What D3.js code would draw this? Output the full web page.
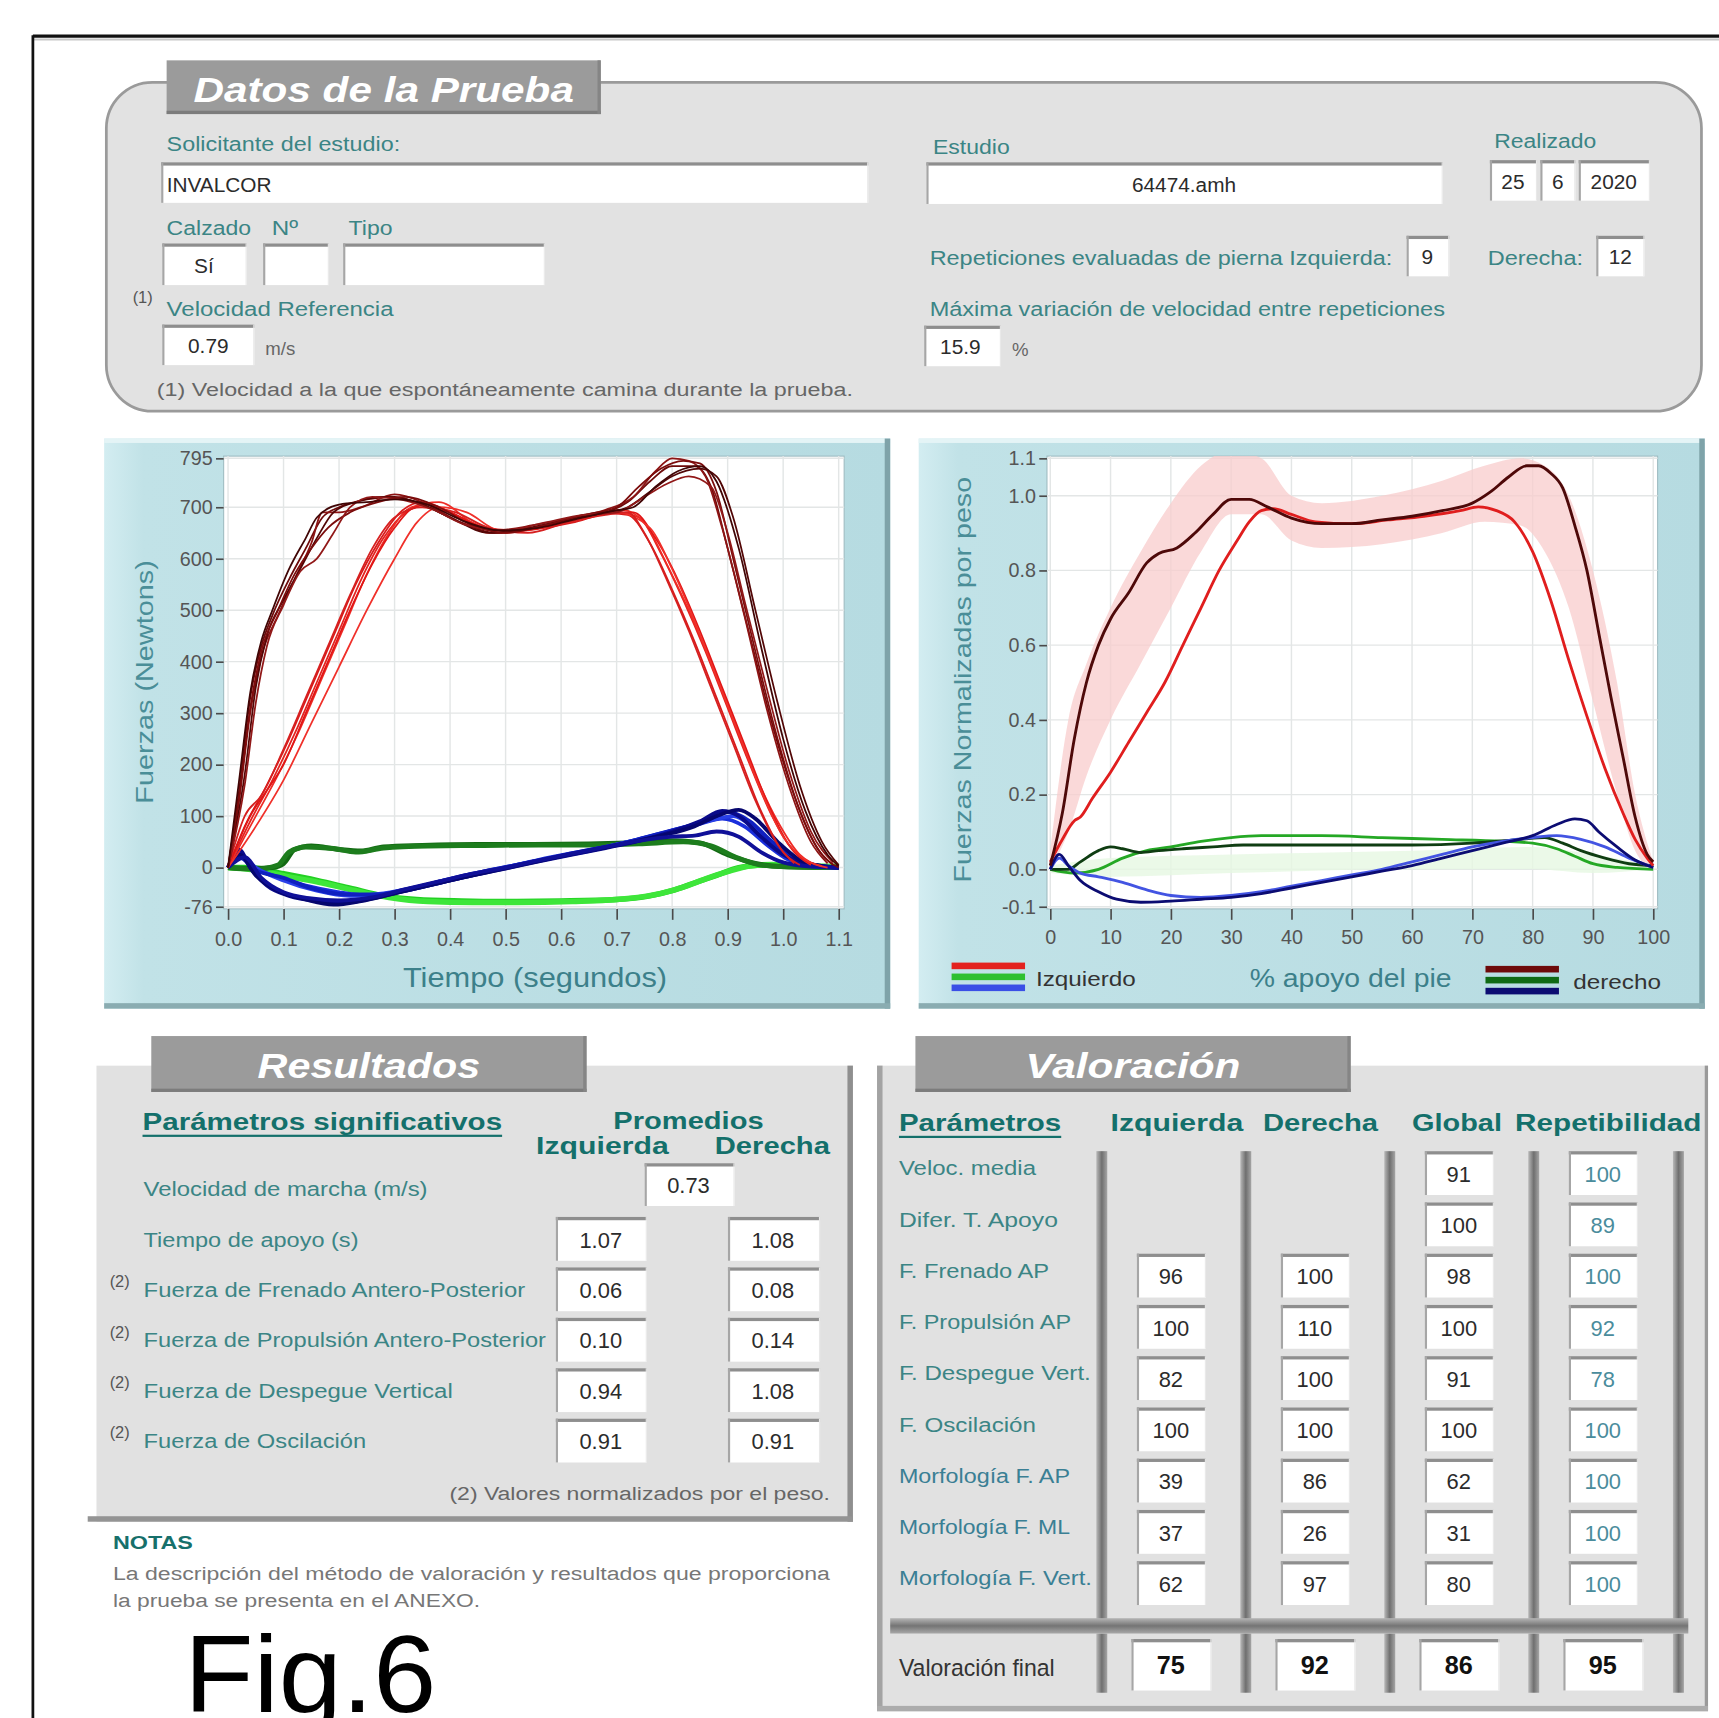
<!DOCTYPE html>
<html>
<head>
<meta charset="utf-8">
<script src="https://cdn.jsdelivr.net/npm/d3@7"></script>
<style>
body { margin: 0; background: #fff; }
svg { display: block; }
</style>
</head>
<body>
<div class="chart"></div>
<script>
// ---- data ----

// fuerzas en newtons (tiempo s, N) - pierna izquierda, componente vertical
const vertIzq = [
	[[0,0],[0.04,90],[0.08,170],[0.12,260],[0.16,360],[0.2,460],[0.24,560],[0.28,640],[0.32,690],[0.36,705],[0.42,680],[0.48,655],[0.55,660],[0.62,675],[0.7,690],[0.74,680],[0.78,610],[0.82,520],[0.86,420],[0.9,310],[0.94,200],[0.98,100],[1.02,30],[1.05,5]],
	[[0,0],[0.03,80],[0.07,160],[0.11,250],[0.15,350],[0.19,450],[0.23,550],[0.27,630],[0.31,690],[0.35,710],[0.41,685],[0.47,650],[0.54,655],[0.62,670],[0.69,688],[0.72,685],[0.76,630],[0.8,540],[0.84,440],[0.88,330],[0.92,220],[0.96,110],[1.0,30],[1.03,5]],
	[[0,0],[0.05,100],[0.09,180],[0.13,270],[0.17,370],[0.21,470],[0.25,570],[0.29,650],[0.33,700],[0.38,710],[0.44,670],[0.5,650],[0.57,665],[0.64,680],[0.71,695],[0.75,670],[0.79,590],[0.83,500],[0.87,400],[0.91,290],[0.95,180],[0.99,90],[1.03,25],[1.07,3]],
	[[0,0],[0.04,100],[0.07,150],[0.1,200],[0.14,300],[0.18,400],[0.22,500],[0.26,590],[0.3,660],[0.34,700],[0.4,690],[0.46,660],[0.53,655],[0.6,670],[0.68,690],[0.73,690],[0.77,640],[0.81,560],[0.85,460],[0.89,350],[0.93,240],[0.97,130],[1.01,45],[1.05,8]],
	[[0,0],[0.05,80],[0.1,170],[0.15,280],[0.2,390],[0.25,500],[0.3,600],[0.34,670],[0.38,700],[0.43,690],[0.49,655],[0.56,660],[0.63,675],[0.7,690],[0.76,660],[0.8,580],[0.84,480],[0.88,370],[0.92,260],[0.96,150],[1.0,60],[1.04,15],[1.08,0]],
	[[0,0],[0.03,100],[0.06,140],[0.1,230],[0.14,330],[0.18,430],[0.22,530],[0.26,620],[0.3,680],[0.35,700],[0.41,690],[0.47,660],[0.54,650],[0.61,670],[0.68,685],[0.72,690],[0.75,650],[0.79,560],[0.83,460],[0.87,350],[0.91,240],[0.95,130],[0.99,45],[1.02,8]]
]

// pierna derecha, componente vertical
const vertDer = [
	[[0,0],[0.02,150],[0.04,330],[0.06,430],[0.08,490],[0.11,560],[0.14,620],[0.17,680],[0.2,700],[0.25,715],[0.3,720],[0.36,700],[0.42,670],[0.48,650],[0.55,660],[0.62,680],[0.68,690],[0.72,710],[0.76,750],[0.8,780],[0.84,780],[0.87,740],[0.9,620],[0.94,450],[0.98,280],[1.02,140],[1.06,40],[1.09,5]],
	[[0,0],[0.02,130],[0.04,300],[0.06,410],[0.09,490],[0.12,560],[0.15,630],[0.17,690],[0.2,690],[0.24,700],[0.3,725],[0.36,705],[0.42,670],[0.48,655],[0.55,665],[0.62,680],[0.68,695],[0.73,720],[0.77,770],[0.8,795],[0.83,790],[0.86,760],[0.89,660],[0.93,490],[0.97,310],[1.01,160],[1.05,50],[1.08,8]],
	[[0,0],[0.03,180],[0.05,350],[0.07,450],[0.1,520],[0.13,580],[0.16,640],[0.19,690],[0.23,710],[0.28,720],[0.34,710],[0.4,680],[0.47,650],[0.54,660],[0.61,675],[0.68,690],[0.72,700],[0.76,730],[0.8,760],[0.85,775],[0.88,760],[0.91,680],[0.95,500],[0.99,320],[1.03,160],[1.07,50],[1.1,5]],
	[[0,0],[0.02,140],[0.04,310],[0.06,420],[0.09,500],[0.12,570],[0.15,620],[0.18,660],[0.22,690],[0.27,710],[0.32,720],[0.38,700],[0.44,665],[0.5,650],[0.57,665],[0.64,685],[0.7,700],[0.74,740],[0.78,775],[0.82,790],[0.85,785],[0.88,730],[0.91,600],[0.95,420],[0.99,250],[1.03,110],[1.07,25],[1.1,0]],
	[[0,0],[0.03,160],[0.05,320],[0.07,430],[0.1,510],[0.13,575],[0.16,600],[0.19,650],[0.22,700],[0.26,720],[0.31,715],[0.37,695],[0.43,665],[0.5,655],[0.57,670],[0.64,685],[0.7,690],[0.75,720],[0.79,745],[0.83,760],[0.87,740],[0.9,650],[0.93,520],[0.97,350],[1.01,190],[1.05,70],[1.09,10]],
	[[0,0],[0.02,170],[0.04,340],[0.06,440],[0.08,500],[0.11,580],[0.14,640],[0.16,680],[0.2,705],[0.25,710],[0.3,715],[0.36,705],[0.42,675],[0.49,655],[0.56,660],[0.63,678],[0.69,692],[0.73,700],[0.77,740],[0.81,770],[0.85,780],[0.88,750],[0.92,620],[0.96,430],[1.0,250],[1.04,110],[1.08,25],[1.1,3]]
]

// antero-posterior
const apIzq = [
	[[0,0],[0.02,30],[0.04,5],[0.08,-15],[0.14,-35],[0.2,-48],[0.26,-55],[0.32,-45],[0.38,-30],[0.44,-15],[0.5,0],[0.56,15],[0.62,28],[0.68,40],[0.74,55],[0.8,72],[0.85,85],[0.89,95],[0.93,80],[0.97,45],[1.01,15],[1.05,3],[1.1,0]],
	[[0,0],[0.02,25],[0.05,0],[0.1,-25],[0.16,-45],[0.22,-55],[0.28,-50],[0.34,-38],[0.4,-22],[0.46,-8],[0.52,5],[0.58,18],[0.64,30],[0.7,45],[0.76,60],[0.82,78],[0.87,92],[0.91,100],[0.95,75],[0.99,40],[1.03,12],[1.07,2],[1.1,0]],
	[[0,0],[0.02,20],[0.05,-5],[0.1,-20],[0.15,-40],[0.21,-52],[0.27,-52],[0.33,-40],[0.39,-25],[0.45,-10],[0.51,3],[0.57,16],[0.63,30],[0.69,42],[0.75,58],[0.81,75],[0.86,90],[0.9,108],[0.94,90],[0.98,50],[1.02,18],[1.06,4],[1.1,0]]
]
const apDer = [
	[[0,0],[0.02,35],[0.04,0],[0.07,-35],[0.11,-55],[0.16,-65],[0.21,-68],[0.26,-60],[0.32,-45],[0.38,-30],[0.44,-15],[0.5,-2],[0.56,12],[0.62,25],[0.68,38],[0.74,52],[0.8,70],[0.85,90],[0.89,110],[0.92,100],[0.96,60],[1.0,25],[1.04,8],[1.1,0]],
	[[0,0],[0.02,25],[0.05,-15],[0.09,-45],[0.14,-62],[0.19,-72],[0.24,-65],[0.3,-50],[0.36,-35],[0.42,-20],[0.48,-6],[0.54,8],[0.6,22],[0.66,35],[0.72,48],[0.78,62],[0.84,80],[0.88,100],[0.92,112],[0.95,95],[0.99,50],[1.03,15],[1.07,3],[1.1,0]],
	[[0,0],[0.03,20],[0.06,-20],[0.1,-48],[0.15,-60],[0.2,-64],[0.26,-58],[0.32,-42],[0.38,-27],[0.44,-12],[0.5,0],[0.56,14],[0.62,27],[0.68,40],[0.74,52],[0.8,60],[0.84,62],[0.88,70],[0.92,60],[0.96,30],[1.0,10],[1.05,2],[1.1,0]]
]

// medio-lateral
const mlDer = [
	[[0,0],[0.04,-2],[0.08,0],[0.1,8],[0.12,35],[0.15,42],[0.2,35],[0.24,32],[0.28,40],[0.35,43],[0.45,45],[0.55,45],[0.65,46],[0.72,48],[0.8,52],[0.85,48],[0.9,25],[0.95,8],[1.0,2],[1.1,0]],
	[[0,0],[0.05,-3],[0.09,5],[0.11,30],[0.14,40],[0.19,37],[0.23,30],[0.28,38],[0.36,42],[0.46,43],[0.56,44],[0.66,44],[0.74,46],[0.82,50],[0.87,42],[0.92,18],[0.96,5],[1.02,1],[1.1,0]]
]
const mlIzq = [
	[[0,0],[0.04,0],[0.1,-12],[0.16,-25],[0.22,-40],[0.28,-55],[0.34,-62],[0.42,-65],[0.5,-66],[0.6,-65],[0.7,-62],[0.76,-55],[0.8,-45],[0.84,-30],[0.88,-15],[0.92,0],[0.96,5],[1.02,3],[1.1,2]],
	[[0,0],[0.05,-5],[0.11,-18],[0.17,-30],[0.23,-45],[0.29,-58],[0.36,-66],[0.44,-68],[0.52,-68],[0.62,-66],[0.72,-60],[0.78,-50],[0.82,-38],[0.86,-22],[0.9,-8],[0.94,3],[0.98,6],[1.04,3],[1.1,2]]
]

// fuerzas normalizadas por peso (% apoyo, valor)
const normVertDer = [[0,0.01],[2,0.15],[4,0.35],[6,0.5],[8,0.6],[10,0.67],[13,0.74],[16,0.82],[18,0.845],[21,0.86],[24,0.9],[27,0.95],[30,0.99],[33,0.99],[36,0.97],[40,0.94],[45,0.925],[50,0.925],[55,0.935],[60,0.945],[65,0.96],[70,0.98],[73,1.01],[76,1.05],[79,1.08],[81,1.08],[83,1.06],[85,1.02],[87,0.92],[89,0.8],[91,0.63],[93,0.46],[95,0.3],[97,0.14],[99,0.04],[100,0.02]]
const normVertIzq = [[0,0.02],[2,0.08],[4,0.13],[5,0.14],[7,0.19],[10,0.26],[13,0.34],[16,0.42],[19,0.5],[22,0.6],[25,0.7],[28,0.8],[31,0.88],[33,0.93],[35,0.96],[37,0.965],[40,0.95],[44,0.93],[50,0.925],[56,0.935],[62,0.945],[68,0.96],[71,0.97],[74,0.96],[77,0.93],[80,0.85],[83,0.72],[86,0.56],[89,0.41],[92,0.27],[95,0.15],[97,0.08],[99,0.03],[100,0.01]]
const normMLIzq = [[0,0],[4,-0.01],[8,0],[12,0.03],[16,0.05],[20,0.06],[25,0.075],[30,0.085],[35,0.09],[45,0.09],[55,0.085],[65,0.08],[75,0.075],[80,0.07],[84,0.055],[87,0.035],[90,0.015],[94,0.005],[100,0]]
const normMLDer = [[0,0],[3,0],[5,0.02],[8,0.05],[10,0.06],[12,0.055],[15,0.045],[18,0.05],[22,0.055],[27,0.06],[32,0.065],[45,0.065],[60,0.065],[70,0.07],[78,0.08],[82,0.085],[85,0.07],[88,0.05],[92,0.03],[96,0.015],[100,0.01]]
const normAPIzq = [[0,0],[1.5,0.03],[3,0.01],[5,-0.01],[8,-0.02],[12,-0.035],[16,-0.055],[20,-0.07],[25,-0.075],[30,-0.07],[35,-0.06],[40,-0.045],[45,-0.03],[50,-0.015],[55,0],[60,0.02],[65,0.04],[70,0.06],[75,0.075],[80,0.085],[84,0.09],[88,0.08],[92,0.06],[96,0.03],[100,0.005]]
const normAPDer = [[0,0],[1.5,0.04],[3,0.01],[5,-0.03],[8,-0.06],[11,-0.08],[15,-0.088],[20,-0.085],[25,-0.08],[30,-0.075],[35,-0.065],[40,-0.05],[45,-0.035],[50,-0.02],[55,-0.005],[60,0.01],[65,0.03],[70,0.05],[75,0.07],[80,0.09],[84,0.12],[87,0.135],[89,0.13],[91,0.1],[94,0.06],[97,0.025],[100,0.005]]
// bandas de referencia (% apoyo, min, max)
const pinkBand = [[0,0,0.05],[3,0.1,0.4],[6,0.25,0.55],[10,0.4,0.7],[15,0.55,0.85],[20,0.7,0.98],[25,0.85,1.08],[30,0.95,1.12],[35,0.95,1.1],[40,0.88,1.0],[45,0.86,0.98],[55,0.87,1.0],[65,0.9,1.04],[72,0.93,1.08],[78,0.92,1.1],[82,0.85,1.08],[86,0.7,1.0],[90,0.45,0.8],[94,0.2,0.5],[97,0.05,0.2],[100,0,0.02]]
const greenBand = [[0,-0.01,0.01],[10,-0.02,0.03],[30,-0.01,0.04],[60,0,0.05],[80,0,0.06],[90,-0.01,0.04],[100,0,0.01]]

// ejes
const leftYTicks = [-76, 0, 100, 200, 300, 400, 500, 600, 700, 795]
const leftXTicks = [0, 0.1, 0.2, 0.3, 0.4, 0.5, 0.6, 0.7, 0.8, 0.9, 1.0, 1.1]
const rightYTicks = [-0.1, 0, 0.2, 0.4, 0.6, 0.8, 1.0, 1.1]
const rightXTicks = [0, 10, 20, 30, 40, 50, 60, 70, 80, 90, 100]

// resultados
const resParams = ['Velocidad de marcha (m/s)', 'Tiempo de apoyo (s)', 'Fuerza de Frenado Antero-Posterior', 'Fuerza de Propulsión Antero-Posterior', 'Fuerza de Despegue Vertical', 'Fuerza de Oscilación']
const resNorm = [false, false, true, true, true, true]
const resVelocidad = 0.73
const resIzq = [null, 1.07, 0.06, 0.10, 0.94, 0.91]
const resDer = [null, 1.08, 0.08, 0.14, 1.08, 0.91]

// valoracion
const valParams = ['Veloc. media', 'Difer. T. Apoyo', 'F. Frenado AP', 'F. Propulsión AP', 'F. Despegue Vert.', 'F. Oscilación', 'Morfología F. AP', 'Morfología F. ML', 'Morfología F. Vert.']
const valCols = ['Izquierda', 'Derecha', 'Global', 'Repetibilidad']
const valIzq = [null, null, 96, 100, 82, 100, 39, 37, 62]
const valDer = [null, null, 100, 110, 100, 100, 86, 26, 97]
const valGlobal = [91, 100, 98, 100, 91, 100, 62, 31, 80]
const valRep = [100, 89, 100, 92, 78, 100, 100, 100, 100]
const valFinal = [75, 92, 86, 95]

// ---- drawing ----
const SANS = '"Liberation Sans", Arial, sans-serif'
const TEAL = '#3b8585'
const HEAD = '#14706b'
const VAL = '#2b2b2b'

const svg = d3.select('.chart')
	.append('svg')
	.attr('width', 1719)
	.attr('height', 1718)
	.attr('viewBox', '0 0 1568 1567')

const defs = svg.append('defs')
const panelGrad = defs.append('linearGradient').attr('id', 'panelGrad')
	.attr('x1', 0).attr('x2', 1).attr('y1', 0).attr('y2', 0)
panelGrad.append('stop').attr('offset', 0).attr('stop-color', '#d3edf1')
panelGrad.append('stop').attr('offset', 0.05).attr('stop-color', '#c1e2e7')
panelGrad.append('stop').attr('offset', 1).attr('stop-color', '#b6dbe1')
const barV = defs.append('linearGradient').attr('id', 'barV')
	.attr('x1', 0).attr('x2', 1).attr('y1', 0).attr('y2', 0)
barV.append('stop').attr('offset', 0).attr('stop-color', '#b9b9b9')
barV.append('stop').attr('offset', 0.5).attr('stop-color', '#6f6f6f')
barV.append('stop').attr('offset', 1).attr('stop-color', '#a5a5a5')
const barH = defs.append('linearGradient').attr('id', 'barH')
	.attr('x1', 0).attr('x2', 0).attr('y1', 0).attr('y2', 1)
barH.append('stop').attr('offset', 0).attr('stop-color', '#b5b5b5')
barH.append('stop').attr('offset', 0.5).attr('stop-color', '#747474')
barH.append('stop').attr('offset', 1).attr('stop-color', '#a8a8a8')

function txt(g, x, y, s, o = {}) {
	const t = g.append('text')
		.attr('x', x)
		.attr('y', y)
		.attr('font-family', o.family || SANS)
		.attr('font-size', o.size || 19)
		.attr('fill', o.fill || TEAL)
		.text(s)
	if (o.weight) t.attr('font-weight', o.weight)
	if (o.style) t.attr('font-style', o.style)
	if (o.anchor) t.attr('text-anchor', o.anchor)
	if (o.w) t.attr('textLength', o.w).attr('lengthAdjust', 'spacingAndGlyphs')
	return t
}

function field(g, x, y, w, h) {
	g.append('rect').attr('x', x).attr('y', y).attr('width', w).attr('height', h).attr('fill', '#fff')
	g.append('rect').attr('x', x).attr('y', y).attr('width', w).attr('height', 3).attr('fill', '#8e8e8e')
	g.append('rect').attr('x', x).attr('y', y).attr('width', 2).attr('height', h).attr('fill', '#a6a6a6')
	g.append('rect').attr('x', x + w - 1).attr('y', y).attr('width', 1).attr('height', h).attr('fill', '#e8e8e8')
}

function tab(x, y, w, h, label, tw) {
	svg.append('rect').attr('x', x).attr('y', y).attr('width', w).attr('height', h).attr('fill', '#9b9b9b')
	svg.append('rect').attr('x', x).attr('y', y + h - 3).attr('width', w).attr('height', 3).attr('fill', '#7c7c7c')
	svg.append('rect').attr('x', x + w - 3).attr('y', y).attr('width', 3).attr('height', h).attr('fill', '#858585')
	txt(svg, x + w / 2, y + 38, label, {size: 32, weight: 'bold', style: 'italic', fill: '#fff', anchor: 'middle', w: tw})
}

// marco exterior
svg.append('line').attr('x1', 30).attr('x2', 1568).attr('y1', 33).attr('y2', 33)
	.attr('stroke', '#111').attr('stroke-width', 3)
svg.append('line').attr('x1', 30).attr('x2', 1568).attr('y1', 36).attr('y2', 36)
	.attr('stroke', '#c8c8c8').attr('stroke-width', 2)
svg.append('line').attr('x1', 30).attr('x2', 30).attr('y1', 32).attr('y2', 1567)
	.attr('stroke', '#111').attr('stroke-width', 2.5)

// ===== Datos de la Prueba =====
svg.append('rect').attr('x', 97).attr('y', 75).attr('width', 1455).attr('height', 300).attr('rx', 42)
	.attr('fill', '#e2e2e2').attr('stroke', '#9a9a9a').attr('stroke-width', 2.5)
tab(152, 55, 396, 49, 'Datos de la Prueba', 347)

const dg = svg.append('g')
txt(dg, 152, 138, 'Solicitante del estudio:', {w: 213})
field(dg, 147, 148, 645, 37)
txt(dg, 152, 175, 'INVALCOR', {fill: VAL})
txt(dg, 152, 214, 'Calzado', {w: 77})
txt(dg, 248, 214, 'Nº', {w: 24})
txt(dg, 318, 214, 'Tipo', {w: 40})
field(dg, 148, 222, 77, 38)
txt(dg, 186, 249, 'Sí', {fill: VAL, anchor: 'middle'})
field(dg, 240, 222, 60, 38)
field(dg, 313, 222, 184, 38)
txt(dg, 121, 276, '(1)', {size: 15, fill: '#555'})
txt(dg, 152, 288, 'Velocidad Referencia', {w: 207})
field(dg, 148, 296, 84, 37)
txt(dg, 190, 322, '0.79', {fill: VAL, anchor: 'middle'})
txt(dg, 242, 324, 'm/s', {size: 17, fill: '#666'})
txt(dg, 143, 361, '(1) Velocidad a la que espontáneamente camina durante la prueba.', {size: 16, fill: '#666', w: 635})

txt(dg, 851, 140, 'Estudio', {w: 70})
field(dg, 845, 148, 471, 38)
txt(dg, 1080, 175, '64474.amh', {fill: VAL, anchor: 'middle'})
txt(dg, 1363, 135, 'Realizado', {w: 93})
field(dg, 1359, 146, 43, 37)
field(dg, 1405, 146, 32, 37)
field(dg, 1440, 146, 65, 37)
txt(dg, 1380, 172, '25', {fill: VAL, anchor: 'middle'})
txt(dg, 1421, 172, '6', {fill: VAL, anchor: 'middle'})
txt(dg, 1472, 172, '2020', {fill: VAL, anchor: 'middle'})
txt(dg, 848, 242, 'Repeticiones evaluadas de pierna Izquierda:', {w: 422})
field(dg, 1283, 215, 39, 37)
txt(dg, 1302, 241, '9', {fill: VAL, anchor: 'middle'})
txt(dg, 1357, 242, 'Derecha:', {w: 87})
field(dg, 1456, 215, 44, 37)
txt(dg, 1478, 241, '12', {fill: VAL, anchor: 'middle'})
txt(dg, 848, 288, 'Máxima variación de velocidad entre repeticiones', {w: 470})
field(dg, 843, 297, 70, 37)
txt(dg, 876, 323, '15.9', {fill: VAL, anchor: 'middle'})
txt(dg, 923, 325, '%', {size: 17, fill: '#666'})

// ===== chart panels =====
function chartPanel(x, y, w, h) {
	svg.append('rect').attr('x', x).attr('y', y).attr('width', w).attr('height', h).attr('fill', 'url(#panelGrad)')
	svg.append('rect').attr('x', x).attr('y', y).attr('width', w).attr('height', 4).attr('fill', '#e4f4f6')
	svg.append('rect').attr('x', x + w - 5).attr('y', y).attr('width', 5).attr('height', h).attr('fill', '#7fa3a9')
	svg.append('rect').attr('x', x).attr('y', y + h - 5).attr('width', w).attr('height', 5).attr('fill', '#8aacb1')
}
chartPanel(95, 400, 717, 520)
chartPanel(838, 400, 717, 520)

const lineGen = (xs, ys) => d3.line().x(d => xs(d[0])).y(d => ys(d[1])).curve(d3.curveMonotoneX)

function styleAxis(g) {
	g.select('.domain').remove()
	g.selectAll('.tick line').attr('stroke', '#4a4a4a').attr('stroke-width', 1.5)
	g.selectAll('.tick text').attr('font-family', SANS).attr('font-size', 18).attr('fill', '#555')
}

// ---- left chart: Newtons vs tiempo ----
const lx = d3.scaleLinear().domain([0, 1.1]).range([208, 765])
const ly = d3.scaleLinear().domain([-76, 795]).range([827, 418])

svg.append('rect').attr('x', 204).attr('y', 416).attr('width', 566).attr('height', 413)
	.attr('fill', '#fff').attr('stroke', '#9fbcc2').attr('stroke-width', 1)
svg.append('clipPath').attr('id', 'clipL').append('rect')
	.attr('x', 204).attr('y', 416).attr('width', 566).attr('height', 413)

const lg = svg.append('g')
lg.selectAll('.gx').data(leftXTicks).enter().append('line')
	.attr('x1', d => lx(d)).attr('x2', d => lx(d)).attr('y1', 416).attr('y2', 829)
	.attr('stroke', '#e3e6e6').attr('stroke-width', 1.3)
lg.selectAll('.gy').data(leftYTicks).enter().append('line')
	.attr('x1', 204).attr('x2', 770).attr('y1', d => ly(d)).attr('y2', d => ly(d))
	.attr('stroke', '#e3e6e6').attr('stroke-width', 1.3)

const lines = lg.append('g').attr('clip-path', 'url(#clipL)')
const lLine = lineGen(lx, ly)
const bright = ['#e3221f', '#d91b1b', '#ee2c26', '#e01616', '#f0302a', '#d62020']
const dark = ['#6e0a0a', '#8d1414', '#520606', '#7b0c0c', '#911818', '#400505']
mlIzq.forEach((c, i) => lines.append('path').attr('d', lLine(c)).attr('fill', 'none')
	.attr('stroke', i ? '#3ee63a' : '#22d022').attr('stroke-width', 5))
mlDer.forEach((c, i) => lines.append('path').attr('d', lLine(c)).attr('fill', 'none')
	.attr('stroke', i ? '#1d7d1d' : '#136a13').attr('stroke-width', 4.5))
apIzq.forEach((c, i) => lines.append('path').attr('d', lLine(c)).attr('fill', 'none')
	.attr('stroke', ['#1a2fdc', '#2a40e8', '#1020c0'][i]).attr('stroke-width', 3.5))
apDer.forEach((c, i) => lines.append('path').attr('d', lLine(c)).attr('fill', 'none')
	.attr('stroke', ['#0a0a8a', '#06066e', '#101098'][i]).attr('stroke-width', 3.5))
vertIzq.forEach((c, i) => lines.append('path').attr('d', lLine(c)).attr('fill', 'none')
	.attr('stroke', bright[i]).attr('stroke-width', 1.6))
vertDer.forEach((c, i) => lines.append('path').attr('d', lLine(c)).attr('fill', 'none')
	.attr('stroke', dark[i]).attr('stroke-width', 1.6))

svg.append('g').attr('transform', 'translate(204,0)')
	.call(d3.axisLeft(ly).tickValues(leftYTicks).tickSize(7).tickPadding(3).tickFormat(d => String(d)))
	.call(styleAxis)
svg.append('g').attr('transform', 'translate(0,829)')
	.call(d3.axisBottom(lx).tickValues(leftXTicks).tickSize(10).tickPadding(11).tickFormat(d => d.toFixed(1)))
	.call(styleAxis)

txt(svg, 0, 0, 'Fuerzas (Newtons)', {size: 22, fill: '#4a8e98', anchor: 'middle', w: 222})
	.attr('transform', 'translate(140,622) rotate(-90)')
txt(svg, 488, 900, 'Tiempo (segundos)', {size: 26, fill: '#3c808a', anchor: 'middle', w: 241})

// ---- right chart: normalizado vs % apoyo ----
const rx = d3.scaleLinear().domain([0, 100]).range([958, 1508])
const ry = d3.scaleLinear().domain([-0.1, 1.1]).range([827, 418])

svg.append('rect').attr('x', 955).attr('y', 416).attr('width', 557).attr('height', 413)
	.attr('fill', '#fff').attr('stroke', '#9fbcc2').attr('stroke-width', 1)
svg.append('clipPath').attr('id', 'clipR').append('rect')
	.attr('x', 955).attr('y', 416).attr('width', 557).attr('height', 413)

const rg = svg.append('g')
rg.selectAll('.gx').data(rightXTicks).enter().append('line')
	.attr('x1', d => rx(d)).attr('x2', d => rx(d)).attr('y1', 416).attr('y2', 829)
	.attr('stroke', '#e3e6e6').attr('stroke-width', 1.3)
rg.selectAll('.gy').data(rightYTicks).enter().append('line')
	.attr('x1', 955).attr('x2', 1512).attr('y1', d => ry(d)).attr('y2', d => ry(d))
	.attr('stroke', '#e3e6e6').attr('stroke-width', 1.3)

const rlines = rg.append('g').attr('clip-path', 'url(#clipR)')
const band = d3.area().x(d => rx(d[0])).y0(d => ry(d[1])).y1(d => ry(d[2])).curve(d3.curveMonotoneX)
rlines.append('path').attr('d', band(pinkBand)).attr('fill', '#f8cccc').attr('opacity', 0.75)
rlines.append('path').attr('d', band(greenBand)).attr('fill', '#e6f8e2').attr('opacity', 0.8)
const rLine = lineGen(rx, ry)
const normSeries = [
	[normMLIzq, '#25a825'],
	[normMLDer, '#0f3d12'],
	[normAPIzq, '#4354e2'],
	[normAPDer, '#0c0c72'],
	[normVertIzq, '#e01e1e'],
	[normVertDer, '#4e0909']
]
normSeries.forEach(([c, col]) => rlines.append('path').attr('d', rLine(c)).attr('fill', 'none')
	.attr('stroke', col).attr('stroke-width', 2.6))

svg.append('g').attr('transform', 'translate(955,0)')
	.call(d3.axisLeft(ry).tickValues(rightYTicks).tickSize(7).tickPadding(3).tickFormat(d => d.toFixed(1)))
	.call(styleAxis)
svg.append('g').attr('transform', 'translate(0,829)')
	.call(d3.axisBottom(rx).tickValues(rightXTicks).tickSize(10).tickPadding(9).tickFormat(d => String(d)))
	.call(styleAxis)

txt(svg, 0, 0, 'Fuerzas Normalizadas por peso', {size: 21, fill: '#4a8e98', anchor: 'middle', w: 370})
	.attr('transform', 'translate(886,620) rotate(-90)')

// leyenda
const legIzq = ['#e3221f', '#2fc02f', '#3a4fe6']
const legDer = ['#6e0a0a', '#0f6a14', '#0c0c72']
legIzq.forEach((c, i) => svg.append('rect').attr('x', 868).attr('y', 878 + i * 10).attr('width', 67).attr('height', 6).attr('fill', c))
legDer.forEach((c, i) => svg.append('rect').attr('x', 1355).attr('y', 881 + i * 10).attr('width', 67).attr('height', 6).attr('fill', c))
txt(svg, 945, 899, 'Izquierdo', {size: 19, fill: '#333', w: 91})
txt(svg, 1140, 900, '% apoyo del pie', {size: 23, fill: '#3c808a', w: 184})
txt(svg, 1435, 902, 'derecho', {size: 19, fill: '#333', w: 80})

// ===== Resultados =====
svg.append('rect').attr('x', 88).attr('y', 972).attr('width', 690).attr('height', 416).attr('fill', '#e1e1e1')
svg.append('rect').attr('x', 773).attr('y', 972).attr('width', 5).attr('height', 416).attr('fill', '#8f8f8f')
svg.append('rect').attr('x', 80).attr('y', 1383).attr('width', 698).attr('height', 5).attr('fill', '#949494')
tab(138, 945, 397, 51, 'Resultados', 203)

const rs = svg.append('g')
txt(rs, 130, 1031, 'Parámetros significativos', {size: 22, weight: 'bold', fill: HEAD, w: 328})
rs.append('rect').attr('x', 130).attr('y', 1035).attr('width', 328).attr('height', 2).attr('fill', HEAD)
txt(rs, 628, 1030, 'Promedios', {size: 22, weight: 'bold', fill: HEAD, anchor: 'middle', w: 137})
txt(rs, 489, 1053, 'Izquierda', {size: 22, weight: 'bold', fill: HEAD, w: 121})
txt(rs, 652, 1053, 'Derecha', {size: 22, weight: 'bold', fill: HEAD, w: 105})

const resY = d3.scalePoint().domain(d3.range(resParams.length)).range([1084, 1314])
const resLabelW = [259, 196, 348, 367, 282, 203]
resParams.forEach((p, i) => {
	txt(rs, 131, resY(i) + 7, p, {w: resLabelW[i]})
	if (resNorm[i]) txt(rs, 100, resY(i) - 2, '(2)', {size: 15, fill: '#555'})
	if (resIzq[i] !== null) {
		field(rs, 507, resY(i) - 20, 83, 40)
		txt(rs, 548, resY(i) + 8, resIzq[i].toFixed(2), {fill: VAL, anchor: 'middle', size: 20})
	}
	if (resDer[i] !== null) {
		field(rs, 664, resY(i) - 20, 84, 40)
		txt(rs, 705, resY(i) + 8, resDer[i].toFixed(2), {fill: VAL, anchor: 'middle', size: 20})
	}
})
field(rs, 588, 1061, 82, 39)
txt(rs, 628, 1088, resVelocidad.toFixed(2), {fill: VAL, anchor: 'middle', size: 20})
txt(rs, 757, 1368, '(2) Valores normalizados por el peso.', {size: 16, fill: '#666', anchor: 'end', w: 347})

// notas
txt(svg, 103, 1413, 'NOTAS', {size: 17, weight: 'bold', fill: '#17706b', w: 73})
txt(svg, 103, 1441, 'La descripción del método de valoración y resultados que proporciona', {size: 16, fill: '#777', w: 654})
txt(svg, 103, 1466, 'la prueba se presenta en el ANEXO.', {size: 16, fill: '#777', w: 335})

txt(svg, 168, 1562, 'Fig.6', {size: 100, fill: '#000', w: 230})

// ===== Valoracion =====
svg.append('rect').attr('x', 800).attr('y', 972).attr('width', 758).attr('height', 588).attr('fill', '#e1e1e1')
svg.append('rect').attr('x', 800).attr('y', 972).attr('width', 5).attr('height', 588).attr('fill', '#a3a3a3')
svg.append('rect').attr('x', 1555).attr('y', 972).attr('width', 3).attr('height', 588).attr('fill', '#9a9a9a')
svg.append('rect').attr('x', 800).attr('y', 1556).attr('width', 758).attr('height', 5).attr('fill', '#acacac')
tab(835, 945, 397, 51, 'Valoración', 196)

const vg = svg.append('g')
const colX = d3.scalePoint().domain(valCols).range([1068, 1462])
const valY = d3.scalePoint().domain(d3.range(valParams.length)).range([1070, 1444])

// separadores
const sepX = valCols.map(c => colX(c) - 63).concat([colX('Repetibilidad') + 69])
sepX.forEach(x => {
	vg.append('rect').attr('x', x - 5).attr('y', 1050).attr('width', 10).attr('height', 428).attr('fill', 'url(#barV)')
	vg.append('rect').attr('x', x - 5).attr('y', 1490).attr('width', 10).attr('height', 54).attr('fill', 'url(#barV)')
})
vg.append('rect').attr('x', 812).attr('y', 1476).attr('width', 728).attr('height', 14).attr('fill', 'url(#barH)')

txt(vg, 820, 1032, 'Parámetros', {size: 22, weight: 'bold', fill: HEAD, w: 148})
vg.append('rect').attr('x', 820).attr('y', 1036).attr('width', 148).attr('height', 2).attr('fill', HEAD)
const headX = [1013, 1152, 1288, 1382]
const headW = [121, 105, 82, 170]
valCols.forEach((c, i) => txt(vg, headX[i], 1032, c, {size: 22, weight: 'bold', fill: HEAD, w: headW[i]}))

const valLabelW = [125, 145, 137, 157, 175, 125, 156, 156, 176]
const valData = [valIzq, valDer, valGlobal, valRep]
valParams.forEach((p, i) => {
	txt(vg, 820, valY(i) + 2, p, {size: 19, fill: i >= 6 ? '#3a7f94' : TEAL, w: valLabelW[i]})
	valData.forEach((arr, j) => {
		if (arr[i] === null) return
		const cx = colX(valCols[j])
		field(vg, cx - 31, valY(i) - 20, 63, 40)
		txt(vg, cx, valY(i) + 8, String(arr[i]), {size: 20, fill: j === 3 ? '#4a8c9c' : VAL, anchor: 'middle'})
	})
})

txt(vg, 820, 1529, 'Valoración final', {size: 21, fill: '#333', w: 142})
valFinal.forEach((v, j) => {
	const cx = colX(valCols[j])
	field(vg, cx - 36, 1495, 73, 47)
	txt(vg, cx, 1527, String(v), {size: 23, weight: 'bold', fill: '#111', anchor: 'middle'})
})
</script>
</body>
</html>
